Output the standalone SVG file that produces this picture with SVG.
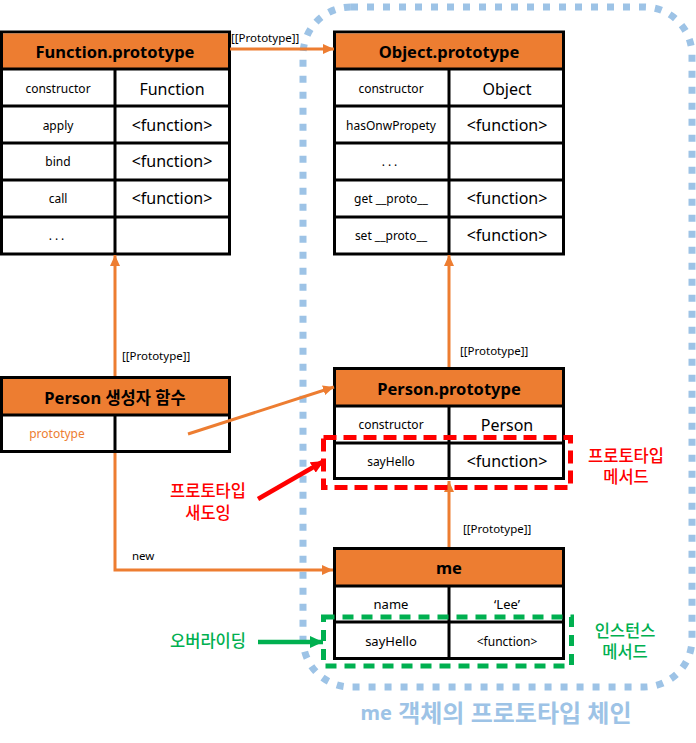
<svg xmlns="http://www.w3.org/2000/svg" width="696" height="743" viewBox="0 0 696 743">
<defs>
<style>
text{font-family:"Noto Sans","Noto Sans CJK KR",sans-serif;dominant-baseline:central;text-anchor:middle;fill:#000}
.hdr{fill:#ED7D31;stroke:none}
.box{fill:#fff;stroke:#000;stroke-width:3}
.ln{stroke:#000;stroke-width:3}
.ht{font-size:16.5px;font-weight:bold}
.k{font-size:12px}
.v{font-size:16px}
.lbl{font-size:11.5px;text-anchor:start}
.con{fill:none;stroke:#ED7D31;stroke-width:3}
.red{fill:#FF0000;font-size:16.5px;font-weight:500}
.grn{fill:#00B050;font-size:16.5px;font-weight:500}
</style>
<marker id="ao" markerUnits="userSpaceOnUse" markerWidth="11" markerHeight="10" refX="11" refY="5" orient="auto"><path d="M0,0 L11,5 L0,10 z" fill="#ED7D31"/></marker>
<marker id="ar" markerUnits="userSpaceOnUse" markerWidth="13" markerHeight="12" refX="13" refY="6" orient="auto"><path d="M0,0 L13,6 L0,12 z" fill="#FF0000"/></marker>
<marker id="ag" markerUnits="userSpaceOnUse" markerWidth="13" markerHeight="12" refX="13" refY="6" orient="auto"><path d="M0,0 L13,6 L0,12 z" fill="#00B050"/></marker>
</defs>
<rect width="696" height="743" fill="#fff"/>

<g id="chain-boundary">
<rect x="303" y="7" width="389" height="680" rx="48" fill="none" stroke="#9DC3E6" stroke-width="7" stroke-dasharray="7 9"/>
<text x="496" y="712" font-size="24" font-weight="bold" style="fill:#9DC3E6"><tspan font-size="20">me</tspan> 객체의 프로토타입 체인</text>
</g>

<g id="function-prototype">
<rect class="box" x="1.5" y="32" width="228" height="222"/>
<rect class="hdr" x="3" y="33.5" width="225" height="35"/>
<line class="ln" x1="1.5" y1="69" x2="229.5" y2="69"/>
<line class="ln" x1="1.5" y1="106" x2="229.5" y2="106"/>
<line class="ln" x1="1.5" y1="143" x2="229.5" y2="143"/>
<line class="ln" x1="1.5" y1="180" x2="229.5" y2="180"/>
<line class="ln" x1="1.5" y1="217" x2="229.5" y2="217"/>
<line class="ln" x1="115" y1="69" x2="115" y2="254"/>
<text class="ht" x="115" y="51">Function.prototype</text>
<text class="k" x="58" y="88">constructor</text><text class="v" x="172" y="89">Function</text>
<text class="k" x="58" y="125">apply</text><text class="v" x="172" y="125">&lt;function&gt;</text>
<text class="k" x="58" y="161">bind</text><text class="v" x="172" y="161">&lt;function&gt;</text>
<text class="k" x="58" y="198">call</text><text class="v" x="172" y="198">&lt;function&gt;</text>
<text class="k" x="58" y="235" letter-spacing="3">...</text>
</g>

<g id="object-prototype">
<rect class="box" x="334.5" y="32" width="229" height="222"/>
<rect class="hdr" x="336" y="33.5" width="226" height="35"/>
<line class="ln" x1="334.5" y1="69" x2="563.5" y2="69"/>
<line class="ln" x1="334.5" y1="106" x2="563.5" y2="106"/>
<line class="ln" x1="334.5" y1="143" x2="563.5" y2="143"/>
<line class="ln" x1="334.5" y1="180" x2="563.5" y2="180"/>
<line class="ln" x1="334.5" y1="217" x2="563.5" y2="217"/>
<line class="ln" x1="449" y1="69" x2="449" y2="254"/>
<text class="ht" x="449" y="51">Object.prototype</text>
<text class="k" x="391" y="88">constructor</text><text class="v" x="507" y="89">Object</text>
<text class="k" x="391" y="125">hasOnwPropety</text><text class="v" x="507" y="125">&lt;function&gt;</text>
<text class="k" x="391" y="161" letter-spacing="3">...</text>
<text class="k" x="391" y="198">get __proto__</text><text class="v" x="507" y="198">&lt;function&gt;</text>
<text class="k" x="391" y="235">set __proto__</text><text class="v" x="507" y="235">&lt;function&gt;</text>
</g>

<g id="person-constructor">
<rect class="box" x="1.5" y="377.5" width="228" height="74"/>
<rect class="hdr" x="3" y="379" width="225" height="35"/>
<line class="ln" x1="1.5" y1="415" x2="229.5" y2="415"/>
<line class="ln" x1="115" y1="415" x2="115" y2="451"/>
<text class="ht" x="115" y="397">Person 생성자 함수</text>
<text class="k" x="57" y="433" style="fill:#ED7D31">prototype</text>
</g>

<g id="person-prototype">
<rect class="box" x="334.5" y="368.5" width="229" height="110"/>
<rect class="hdr" x="336" y="370" width="226" height="35"/>
<line class="ln" x1="334.5" y1="406" x2="563.5" y2="406"/>
<line class="ln" x1="334.5" y1="443" x2="563.5" y2="443"/>
<line class="ln" x1="449" y1="406" x2="449" y2="478"/>
<text class="ht" x="449" y="388">Person.prototype</text>
<text class="k" x="391" y="424">constructor</text><text class="v" x="507" y="425">Person</text>
<text class="k" x="391" y="461">sayHello</text><text class="v" x="507" y="461">&lt;function&gt;</text>
</g>

<g id="me">
<rect class="box" x="334.5" y="548.5" width="229" height="110"/>
<rect class="hdr" x="336" y="550" width="226" height="35"/>
<line class="ln" x1="334.5" y1="586" x2="563.5" y2="586"/>
<line class="ln" x1="334.5" y1="622" x2="563.5" y2="622"/>
<line class="ln" x1="449" y1="586" x2="449" y2="658"/>
<text class="ht" x="449" y="567" font-size="17">me</text>
<text x="391" y="604" font-size="13">name</text><text x="507" y="604" font-size="13">‘Lee’</text>
<text x="391" y="641" font-size="13">sayHello</text><text x="507" y="641" font-size="12">&lt;function&gt;</text>
</g>

<g id="connectors">
<line class="con" x1="230" y1="49" x2="334" y2="49" marker-end="url(#ao)"/>
<line class="con" x1="115" y1="376" x2="115" y2="255" marker-end="url(#ao)"/>
<line class="con" x1="449" y1="367" x2="449" y2="255" marker-end="url(#ao)"/>
<line class="con" x1="449" y1="547" x2="449" y2="481" marker-end="url(#ao)"/>
<line class="con" x1="188" y1="434" x2="334" y2="387" marker-end="url(#ao)"/>
<polyline class="con" points="115,453 115,570 333,570" marker-end="url(#ao)"/>
<line x1="258" y1="499" x2="324" y2="461" stroke="#FF0000" stroke-width="4.5" marker-end="url(#ar)"/>
<line x1="258" y1="642" x2="323" y2="642" stroke="#00B050" stroke-width="4.5" marker-end="url(#ag)"/>
<text class="lbl" x="231" y="37">[[Prototype]]</text>
<text class="lbl" x="122" y="355">[[Prototype]]</text>
<text class="lbl" x="460" y="350">[[Prototype]]</text>
<text class="lbl" x="463" y="528">[[Prototype]]</text>
<text class="lbl" x="132" y="555">new</text>
</g>

<g id="prototype-method-mark">
<rect x="323.5" y="437.5" width="247" height="50" fill="none" stroke="#FF0000" stroke-width="5" stroke-dasharray="13 7"/>
<text class="red" x="626" y="455">프로토타입</text>
<text class="red" x="626" y="476">메서드</text>
</g>

<g id="instance-method-mark">
<rect x="323.5" y="617" width="248" height="49" fill="none" stroke="#00B050" stroke-width="5" stroke-dasharray="11 8"/>
<text class="grn" x="625" y="630">인스턴스</text>
<text class="grn" x="625" y="651">메서드</text>
</g>

<g id="shadowing-label">
<text class="red" x="208" y="490">프로토타입</text>
<text class="red" x="208" y="512">새도잉</text>
</g>

<g id="overriding-label">
<text class="grn" x="208" y="640">오버라이딩</text>
</g>
</svg>
